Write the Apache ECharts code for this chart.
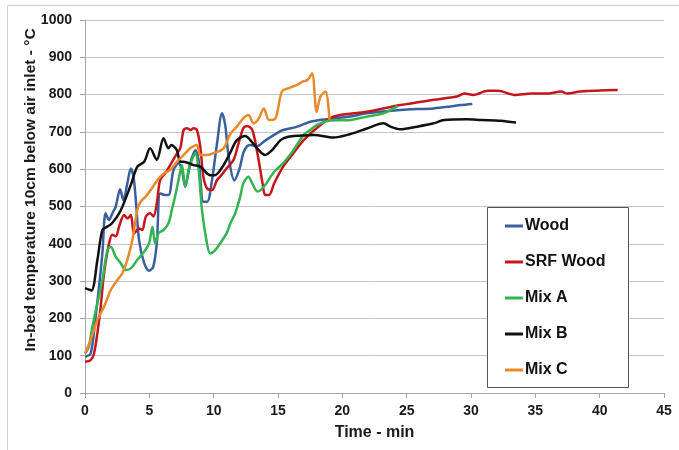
<!DOCTYPE html>
<html>
<head>
<meta charset="utf-8">
<script src="https://cdn.jsdelivr.net/npm/echarts@6/dist/echarts.min.js"></script>
<style>html,body{margin:0;padding:0;background:#fff}#c{width:679px;height:450px}</style>
</head>
<body>
<div id="c"></div>
<script>
var seriesNames = ['Wood', 'SRF Wood', 'Mix A', 'Mix B', 'Mix C'];
var xTicks = [0, 5, 10, 15, 20, 25, 30, 35, 40, 45];
var yTicks = [0, 100, 200, 300, 400, 500, 600, 700, 800, 900, 1000];

var woodTime = [0, 0.44, 0.83, 1.09, 1.35, 1.6, 1.87, 2.13, 2.39, 2.73, 2.98, 3.29, 3.56, 3.77, 3.95, 4.2, 4.6, 4.98, 5.3, 5.58, 5.84, 6.23, 6.5, 6.88, 7.27, 7.53, 7.79, 8.18, 8.57, 8.83, 9.2, 9.5, 9.87, 10.26, 10.65, 10.9, 11.16, 11.6, 12.0, 12.3, 12.6, 12.85, 13.4, 13.9, 14.7, 15.4, 16.5, 17.5, 18.8, 20.6, 21.9, 24.5, 27.1, 28.4, 29.2, 30.1];
var woodTemp = [97, 106, 205, 285, 374, 482, 464, 482, 500, 546, 517, 562, 602, 580, 517, 410, 348, 328, 338, 401, 535, 531, 531, 598, 616, 598, 553, 616, 651, 625, 513, 513, 571, 669, 750, 718, 634, 570, 600, 643, 662, 665, 662, 674, 692, 705, 714, 727, 734, 741, 750, 759, 763, 768, 772, 775];

var srfTime = [0, 0.44, 0.7, 0.96, 1.22, 1.48, 1.87, 2.13, 2.4, 2.65, 3.04, 3.3, 3.56, 3.82, 4.2, 4.45, 4.73, 5.06, 5.32, 5.58, 5.84, 6.23, 6.62, 7.0, 7.4, 7.66, 7.92, 8.2, 8.43, 8.7, 8.96, 9.2, 9.48, 9.87, 10.26, 10.6, 11.0, 11.55, 11.9, 12.3, 12.6, 13.0, 13.4, 13.8, 14.0, 14.3, 14.7, 15.4, 16.2, 17.0, 18.0, 19.3, 21.9, 24.5, 27.1, 28.9, 29.5, 30.2, 31.3, 32.1, 33.4, 34.7, 36.0, 37.0, 37.5, 38.5, 41.4];
var srfTemp = [84, 88, 106, 160, 231, 321, 401, 424, 420, 446, 477, 468, 477, 428, 441, 437, 473, 482, 473, 509, 571, 589, 611, 634, 656, 705, 710, 705, 710, 705, 660, 580, 549, 544, 571, 584, 602, 625, 665, 710, 716, 705, 643, 562, 531, 531, 562, 607, 643, 678, 710, 741, 754, 772, 786, 795, 803, 799, 810, 810, 799, 803, 803, 808, 803, 808, 812];

var mixATime = [0, 0.3, 0.57, 0.96, 1.35, 1.74, 2.0, 2.39, 2.78, 3.17, 3.56, 4.07, 4.6, 4.98, 5.24, 5.45, 5.71, 6.1, 6.49, 6.75, 7.0, 7.27, 7.53, 7.79, 8.05, 8.31, 8.57, 8.83, 9.09, 9.48, 9.73, 10.12, 10.5, 11.0, 11.3, 11.68, 12.07, 12.3, 12.7, 13.0, 13.4, 13.9, 14.7, 15.4, 16.2, 17.0, 17.5, 18.0, 18.95, 20.6, 21.9, 23.2, 24.3];
var mixATemp = [106, 124, 178, 240, 303, 383, 392, 365, 348, 330, 334, 357, 379, 401, 446, 401, 428, 437, 455, 491, 527, 571, 611, 553, 598, 625, 643, 598, 491, 401, 374, 383, 401, 428, 455, 482, 527, 562, 580, 562, 540, 553, 593, 616, 651, 692, 705, 718, 730, 732, 741, 750, 769];

var mixBTime = [0, 0.5, 0.96, 1.35, 1.74, 2.1, 2.78, 3.56, 4.07, 4.6, 5.06, 5.58, 6.1, 6.49, 6.7, 7.14, 7.4, 7.66, 8.43, 8.96, 9.73, 10.1, 10.77, 11.3, 11.8, 12.46, 12.85, 13.5, 14.0, 14.54, 15.2, 15.8, 16.7, 17.8, 19.3, 20.4, 21.9, 23.2, 23.75, 24.5, 25.8, 27.1, 27.9, 29.7, 30.8, 32.3, 33.5];
var mixBTemp = [281, 275, 356, 437, 446, 455, 490, 558, 607, 620, 656, 625, 683, 656, 665, 651, 620, 620, 611, 607, 584, 584, 611, 645, 678, 689, 678, 651, 638, 651, 678, 687, 690, 692, 685, 692, 709, 723, 714, 707, 714, 723, 732, 734, 732, 730, 725];

var mixCTime = [0, 0.44, 0.96, 1.48, 2.0, 2.52, 2.9, 3.29, 3.68, 4.07, 4.33, 4.73, 5.1, 5.63, 6.15, 6.62, 7.14, 7.66, 8.18, 8.7, 8.96, 9.48, 10.0, 10.77, 11.3, 11.8, 12.3, 12.7, 13.1, 13.5, 13.9, 14.3, 14.8, 15.3, 15.8, 16.5, 16.9, 17.3, 17.65, 18.0, 18.3, 18.7, 19.0];
var mixCTemp = [106, 142, 196, 231, 276, 303, 321, 357, 410, 491, 513, 527, 544, 571, 589, 598, 620, 638, 656, 665, 638, 638, 643, 656, 695, 714, 736, 745, 723, 736, 763, 732, 736, 808, 817, 826, 835, 839, 857, 754, 795, 808, 732];

var colors = ['#3A5F9E', '#C4161C', '#33B450', '#111111', '#E8892B'];

function zip(a, b) { return a.map(function (v, i) { return [v, b[i]]; }); }
var allData = [zip(woodTime, woodTemp), zip(srfTime, srfTemp), zip(mixATime, mixATemp), zip(mixBTime, mixBTemp), zip(mixCTime, mixCTemp)];

var chart = echarts.init(document.getElementById('c'), null, { renderer: 'canvas' });
var font = 'Liberation Sans, Arial, sans-serif';
chart.setOption({
  animation: false,
  backgroundColor: '#fff',
  textStyle: { fontFamily: font },
  grid: { left: 85, right: 15, top: 20, bottom: 57 },
  xAxis: {
    type: 'value', min: xTicks[0], max: xTicks[xTicks.length - 1], interval: 5,
    name: 'Time - min', nameLocation: 'middle', nameGap: 32,
    nameTextStyle: { fontSize: 16, fontWeight: 'bold', color: '#1a1a1a', fontFamily: font },
    axisLine: { show: true, lineStyle: { color: '#A6A6A6', width: 1 } },
    axisTick: { show: true, length: 5, lineStyle: { color: '#A6A6A6' } },
    axisLabel: { fontSize: 14, fontWeight: 'bold', color: '#1a1a1a', margin: 11, fontFamily: font,
      formatter: function (v) { return String(v); } },
    splitLine: { show: false }
  },
  yAxis: {
    type: 'value', min: yTicks[0], max: yTicks[yTicks.length - 1], interval: 100,
    axisLine: { show: true, lineStyle: { color: '#A6A6A6', width: 1 } },
    axisTick: { show: true, length: 5, lineStyle: { color: '#A6A6A6' } },
    axisLabel: { fontSize: 14, fontWeight: 'bold', color: '#1a1a1a', margin: 13, fontFamily: font,
      formatter: function (v) { return String(v); } },
    splitLine: { show: true, lineStyle: { color: '#C4C4C4', width: 1 } }
  },
  legend: {
    orient: 'vertical', left: 505, top: 216, padding: 0, itemGap: 16,
    itemWidth: 18, itemHeight: 3, icon: 'rect', z: 10,
    textStyle: { fontSize: 16, fontWeight: 'bold', color: '#111', lineHeight: 20, fontFamily: font, padding: [0, 0, 0, -3] },
    data: seriesNames
  },
  graphic: [
    { type: 'rect', z: -10, silent: true, shape: { x: 7.5, y: 5.5, width: 700, height: 500 }, style: { fill: 'none', stroke: '#D0D0D0', lineWidth: 1 } },
    { type: 'rect', z: 5, silent: true, shape: { x: 487.5, y: 207.5, width: 141, height: 180 }, style: { fill: '#fff', stroke: '#555', lineWidth: 1 } },
    { type: 'text', z: 5, silent: true, x: 31, y: 190, rotation: Math.PI / 2,
      style: { text: 'In-bed temperature 10cm below air inlet - °C', font: 'bold 15.5px ' + font, fill: '#1a1a1a', textAlign: 'center', textVerticalAlign: 'middle' } }
  ],
  series: seriesNames.map(function (n, i) {
    return {
      name: n, type: 'line', data: allData[i], smooth: 0.3, showSymbol: false, symbol: 'none',
      color: colors[i], lineStyle: { width: 2.5, color: colors[i] }, z: 2
    };
  })
});
</script>
</body>
</html>
